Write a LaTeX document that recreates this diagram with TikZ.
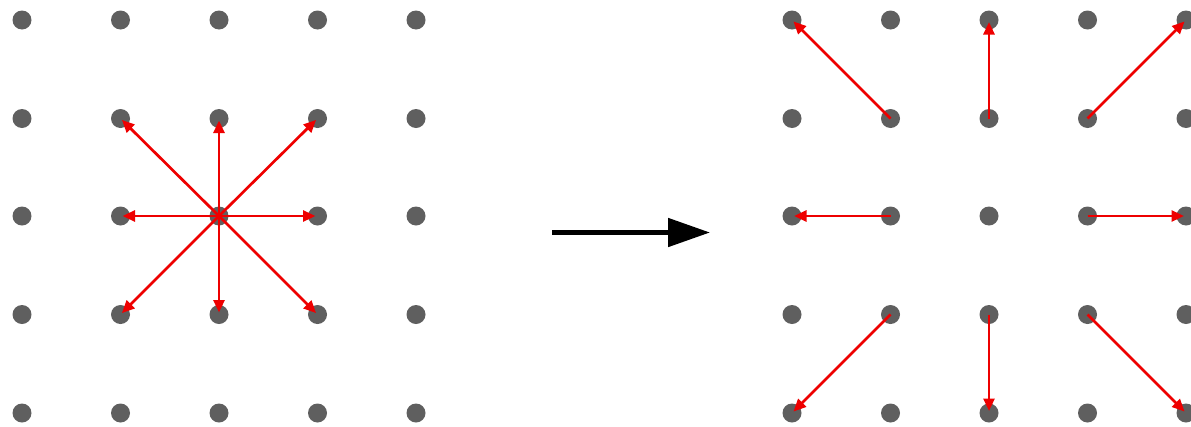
\documentclass[tikz,border=0pt]{standalone}
\usetikzlibrary{arrows.meta}
\definecolor{dotgray}{HTML}{5F5F5F}
\definecolor{arrred}{HTML}{EE0000}
\begin{document}
\begin{tikzpicture}[x=1pt,y=-1pt,
  gdot/.style={circle,fill=dotgray,inner sep=0pt,minimum size=19pt},
  vec/.style={draw=arrred,line width=2.7pt,-{Triangle[length=12.5pt,width=11pt]},shorten >=2pt},
  bigarrow/.style={draw=black,line width=5pt,-{Triangle[length=42pt,width=28pt]}}]
\useasboundingbox (0,0) rectangle (1191,426);
\foreach \i/\x in {0/22,1/120.5,2/219,3/317.5,4/416}{
  \foreach \j/\y in {0/20,1/118.5,2/216,3/314.5,4/413}{
    \node[gdot] (L-\i-\j) at (\x,\y) {};
  }
}
\foreach \i/\x in {0/792,1/890.5,2/989,3/1087.5,4/1186}{
  \foreach \j/\y in {0/20,1/118.5,2/216,3/314.5,4/413}{
    \node[gdot] (R-\i-\j) at (\x,\y) {};
  }
}
% left star
\foreach \a/\b in {1/1,2/1,3/1,1/2,3/2,1/3,2/3,3/3}{
  \draw[vec] (L-2-2.center) -- (L-\a-\b.center);
}
% right outward arrows
\draw[vec] (R-1-1.center) -- (R-0-0.center);
\draw[vec] (R-2-1.center) -- (R-2-0.center);
\draw[vec] (R-3-1.center) -- (R-4-0.center);
\draw[vec] (R-1-2.center) -- (R-0-2.center);
\draw[vec] (R-3-2.center) -- (R-4-2.center);
\draw[vec] (R-1-3.center) -- (R-0-4.center);
\draw[vec] (R-2-3.center) -- (R-2-4.center);
\draw[vec] (R-3-3.center) -- (R-4-4.center);
% big arrow
\coordinate (bs) at (552,232.5);
\coordinate (be) at (710,232.5);
\draw[bigarrow] (bs) -- (be);
\end{tikzpicture}
\end{document}
